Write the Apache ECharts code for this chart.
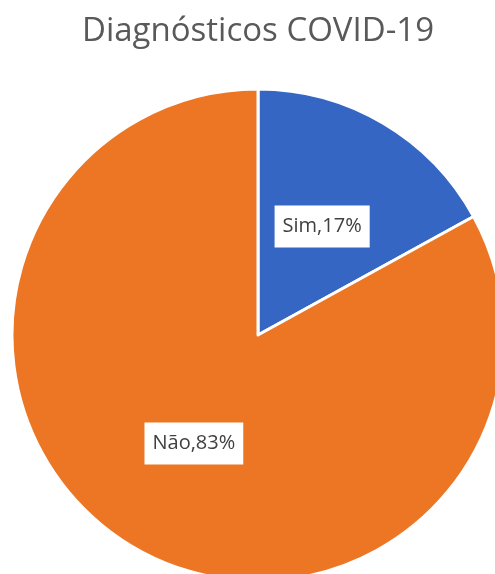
<!DOCTYPE html>
<html><head><meta charset="utf-8">
<script src="https://cdn.jsdelivr.net/npm/echarts@6/dist/echarts.min.js"></script>
<style>html,body{margin:0;padding:0;background:#fff;}#c{width:495px;height:574px;}</style>
</head><body><div id="c"></div>
<script>
var categories = ['Sim', 'Não'];
var values = [17, 83];
var colors = ['#3566C4', '#EC7623'];
var titleText = 'Diagnósticos COVID-19';

var chart = echarts.init(document.getElementById('c'));
chart.setOption({
  animation: false,
  title: {
    text: titleText, left: 77, top: 10,
    textStyle: { fontFamily: 'Open Sans', fontSize: 33, fontWeight: 'normal', color: '#595959' }
  },
  series: [{
    type: 'pie',
    center: [258, 335],
    radius: 246,
    startAngle: 90,
    clockwise: true,
    data: categories.map(function (c, i) { return { name: c, value: values[i], itemStyle: { color: colors[i] } }; }),
    itemStyle: { borderColor: '#fff', borderWidth: 3 },
    label: {
      position: 'inside',
      formatter: function (p) { return p.name + ',' + p.value + '%'; },
      fontFamily: 'Open Sans', fontSize: 20, color: '#404040',
      backgroundColor: '#fff', padding: [12, 8, 10, 8]
    },
    labelLine: { show: false }
  }]
});
</script></body></html>
